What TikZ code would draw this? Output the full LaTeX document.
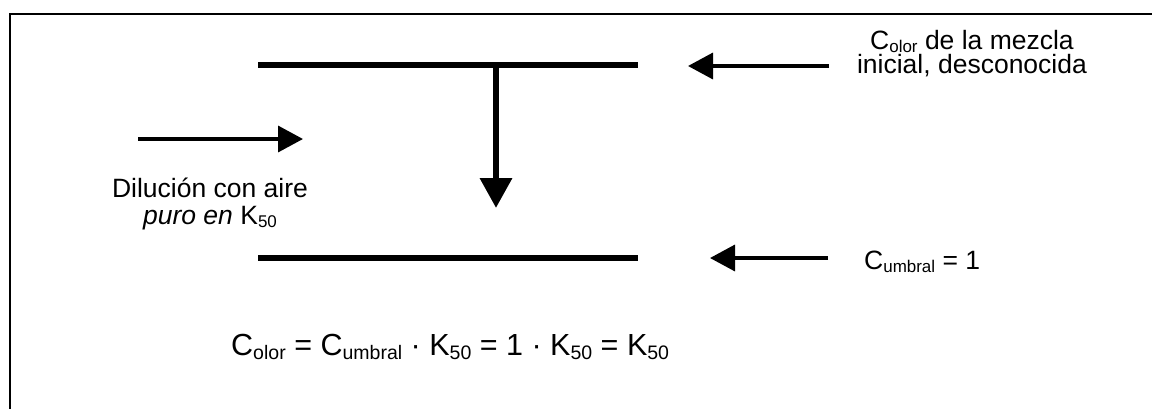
\documentclass[tikz,border=0pt]{standalone}
\usepackage{fontspec}
\setmainfont{Liberation Sans}
\usetikzlibrary{arrows.meta}
% subscript as set by a word processor: smaller and slightly lowered
\makeatletter
\newcommand\lowsub[1]{\raisebox{-0.14em}{\fontsize{\strip@pt\dimexpr0.64\dimexpr\f@size pt\relax\relax}{0}\selectfont #1}}
\makeatother
\begin{document}
\begin{tikzpicture}[x=1pt,y=-1pt,
  frameline/.style={line width=1.8pt},
  bar/.style={line width=5.5pt},
  flow/.style={line width=3.5pt,-{Triangle[length=25pt,width=26pt]}},
  drop/.style={line width=6.5pt,-{Triangle[length=30pt,width=31pt]}},
  lbl/.style={inner sep=0pt,anchor=base,font=\fontsize{26.5}{28}\selectfont},
  eqn/.style={inner sep=0pt,anchor=base west,font=\fontsize{30.5}{32}\selectfont}]
\useasboundingbox (0,0) rectangle (1152,408);

% open frame: top and left edges only
\coordinate (fb) at (10,410);
\coordinate (fc) at (10,14);
\coordinate (fr) at (1154,14);
\draw[frameline] (fb) -- (fc) -- (fr);

% concentration levels
\coordinate (topL) at (258,65);
\coordinate (topR) at (638,65);
\coordinate (botL) at (258,258);
\coordinate (botR) at (638,258);
\draw[bar] (topL) -- (topR);
\draw[bar] (botL) -- (botR);

% dilution step
\coordinate (dropS) at (496,65);
\coordinate (dropE) at (496,208);
\draw[drop] (dropS) -- (dropE);

% incoming air (multi-line labels sit on the baseline of their last line)
\coordinate (airS) at (138,139);
\coordinate (airE) at (303,139);
\draw[flow] (airS) -- (airE);
\node[lbl,align=center,font=\fontsize{26.5}{27}\selectfont] (air) at (210,224)
  {Dilución con aire\\{\itshape puro en} K\lowsub{50}};

% initial mixture
\coordinate (iniS) at (829,66);
\coordinate (iniE) at (688,66);
\draw[flow] (iniS) -- (iniE);
\node[lbl,align=center,font=\fontsize{26.5}{24.5}\selectfont] (ini) at (972,73.5)
  {C\lowsub{olor} de la mezcla\\inicial, desconocida};

% threshold
\coordinate (thrS) at (828,258);
\coordinate (thrE) at (710,258);
\draw[flow] (thrS) -- (thrE);
\node[lbl,anchor=base west] (thr) at (864,269) {C\lowsub{umbral} = 1};

% result
\node[eqn] (res) at (231,355) {C\lowsub{olor} = C\lowsub{umbral} · K\lowsub{50} = 1 · K\lowsub{50} = K\lowsub{50}};
\end{tikzpicture}
\end{document}
